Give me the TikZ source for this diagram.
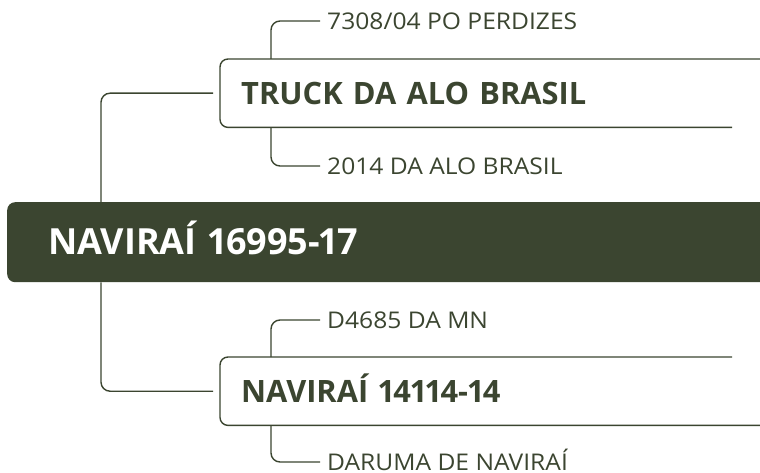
\documentclass[tikz,border=0pt]{standalone}
\usepackage{fontspec}
\setmainfont{Open Sans}[Numbers=Proportional]
\newfontfamily\leaffont{Open Sans}[FakeStretch=1.07]
\usepackage{xcolor}
\usetikzlibrary{positioning,calc}
\definecolor{olive}{HTML}{3B4530}

\begin{document}
\begin{tikzpicture}[x=1pt,y=-1pt,
  rootbox/.style={fill=olive,rounded corners=8pt,anchor=north west,minimum width=800pt,minimum height=80pt,inner xsep=41pt,text width=718pt,align=left,text=white,font=\fontsize{36}{40}\selectfont\bfseries,text height=25pt,text depth=0pt},
  topicbox/.style={anchor=north west,minimum width=560pt,minimum height=68pt,inner xsep=21pt,text width=518pt,align=left,text=olive,font=\fontsize{30.8}{34}\selectfont\bfseries,text height=22pt,text depth=0pt},
  leaf/.style={anchor=west,inner xsep=7pt,text=olive,font=\leaffont\fontsize{23}{26}\selectfont,text height=16.5pt,text depth=0pt},
  frame/.style={draw=olive,line width=1.4pt,rounded corners=8pt},
  link/.style={draw=olive,line width=1.4pt,rounded corners=9pt}]
\useasboundingbox (0,0) rectangle (760,473);
\node[rootbox] (root) at (7,202) {NAVIRAÍ 16995-17};
\node[topicbox] (truck) at (220,59) {TRUCK DA ALO BRASIL};
\node[topicbox] (nav) at (220,357) {NAVIRAÍ 14114-14};
\node[leaf] (t1) at (320,21) {7308/04 PO PERDIZES};
\node[leaf] (t2) at (320,166) {2014 DA ALO BRASIL};
\node[leaf] (n1) at (320,320) {D4685 DA MN};
\node[leaf] (n2) at (320,462) {DARUMA DE NAVIRAÍ};
% box outlines, open on the right
\draw[frame] ([xshift=512pt]truck.south west) -- (truck.south west) -- (truck.north west) -- (truck.north east);
\draw[frame] ([xshift=512pt]nav.north west) -- (nav.north west) -- (nav.south west) -- (nav.south east);
% root to topics
\coordinate (rt) at ([xshift=94pt]root.north west);
\coordinate (rb) at ([xshift=94pt]root.south west);
\draw[link] (rt) |- ([xshift=-7pt]truck.west);
\draw[link] (rb) |- ([xshift=-7pt]nav.west);
% topics to leaves
\draw[link] ([xshift=51pt]truck.north west) |- (t1.west);
\draw[link] ([xshift=51pt]truck.south west) |- (t2.west);
\draw[link] ([xshift=51pt]nav.north west) |- (n1.west);
\draw[link] ([xshift=51pt]nav.south west) |- (n2.west);
\end{tikzpicture}
\end{document}
